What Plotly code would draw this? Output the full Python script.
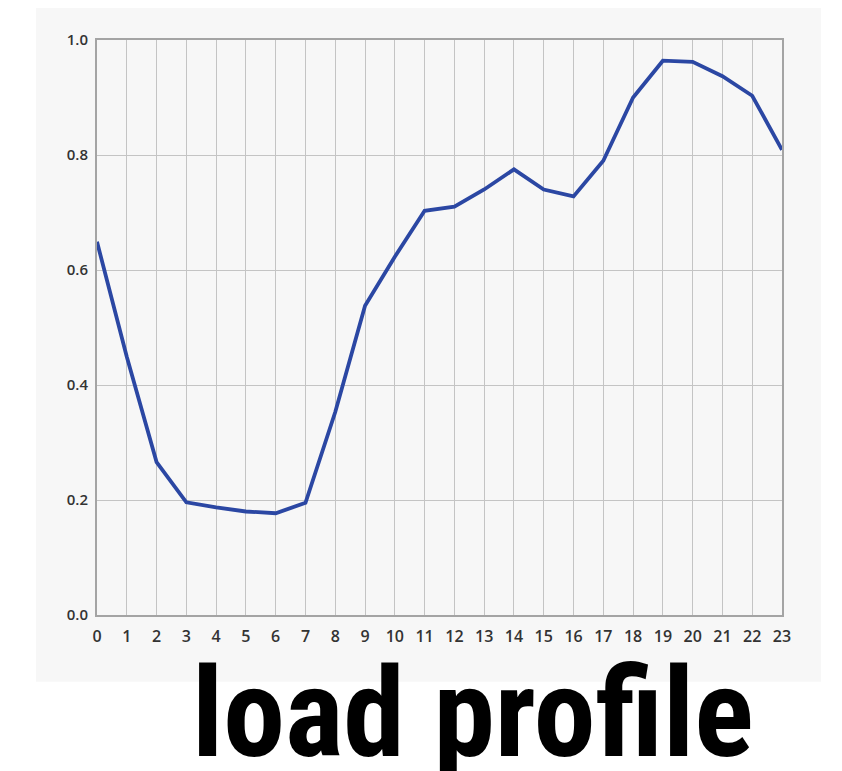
import plotly.graph_objects as go

hours = list(range(24))
load = [0.649, 0.449, 0.266, 0.196, 0.187, 0.180, 0.177, 0.195, 0.353, 0.538,
        0.623, 0.703, 0.710, 0.740, 0.775, 0.740, 0.728, 0.790, 0.900, 0.964,
        0.962, 0.937, 0.903, 0.809]
y_ticks = [0.0, 0.2, 0.4, 0.6, 0.8, 1.0]
y_tick_labels = ["0.0", "0.2", "0.4", "0.6", "0.8", "1.0"]
title_text = "load profile"

fig = go.Figure()
fig.add_trace(go.Scatter(x=hours, y=load, mode="lines",
                         line=dict(color="#2b47a3", width=3.8),
                         hoverinfo="skip"))

xtickfont = dict(family="Open Sans, sans-serif", size=16, color="#333333", weight=600)
ytickfont = dict(family="Open Sans, sans-serif", size=15, color="#333333", weight=600)

# page body has an 8px offset, so the figure is 8px smaller than the window
fig.update_layout(
    width=834, height=763,
    margin=dict(l=89, r=60, t=32, b=156, autoexpand=False),
    paper_bgcolor="white",
    plot_bgcolor="rgba(0,0,0,0)",
    showlegend=False,
    xaxis=dict(range=[0, 23], tickvals=hours, ticktext=[str(h) for h in hours],
               showgrid=True, gridcolor="#c4c4c4", gridwidth=1,
               showline=True, linecolor="#a4a4a4", linewidth=2, mirror=True,
               zeroline=False, ticks="outside", ticklen=6, tickcolor="rgba(0,0,0,0)",
               tickfont=xtickfont),
    yaxis=dict(range=[0, 1], tickvals=y_ticks, ticktext=y_tick_labels,
               showgrid=True, gridcolor="#c4c4c4", gridwidth=1,
               showline=True, linecolor="#a4a4a4", linewidth=2, mirror=True,
               zeroline=False, ticks="outside", ticklen=4, tickcolor="rgba(0,0,0,0)",
               tickfont=ytickfont),
    shapes=[dict(type="rect", xref="paper", yref="paper",
                 x0=-0.089, x1=1.057, y0=-0.116, y1=1.0626,
                 fillcolor="#f7f7f7", line=dict(width=0), layer="below")],
    annotations=[dict(text=title_text, xref="paper", yref="paper",
                      x=0.549, y=-0.172,
                      xanchor="center", yanchor="middle", showarrow=False,
                      font=dict(family="Roboto Condensed, Liberation Sans, Arial, sans-serif",
                                size=124, color="black", weight="bold"))],
)

fig.write_html("out.html")
